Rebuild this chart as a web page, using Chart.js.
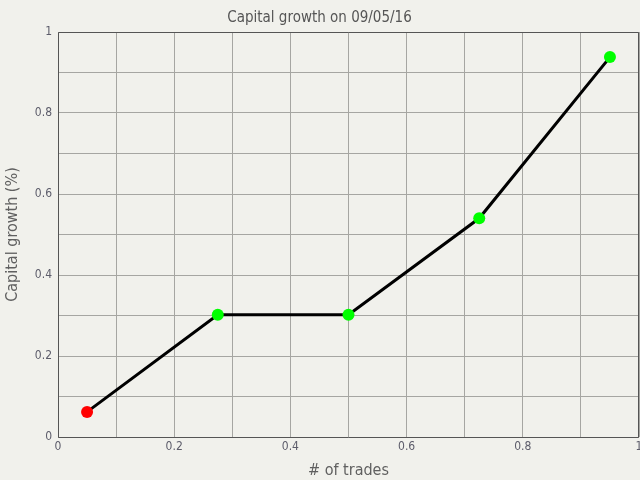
<!DOCTYPE html>
<html>
<head>
<meta charset="utf-8">
<script src="https://cdn.jsdelivr.net/npm/chart.js@4/dist/chart.umd.min.js"></script>
<style>
html,body{margin:0;padding:0;background:#f1f1ec;}
#wrap{width:640px;height:480px;}
</style>
</head>
<body>
<div id="wrap"><canvas id="c" width="640" height="480"></canvas></div>
<script>
const titleText = "Capital growth on 09/05/16";
const xTitle = "# of trades";
const yTitle = "Capital growth (%)";
const xValues = [0.05, 0.275, 0.5, 0.725, 0.95];
const yValues = [0.062, 0.302, 0.302, 0.54, 0.938];
const pointColors = ["#ff0000", "#00ff00", "#00ff00", "#00ff00", "#00ff00"];
const tickLabels = [0, 0.2, 0.4, 0.6, 0.8, 1];

const FONT = "'DejaVu Sans Condensed', 'DejaVu Sans', sans-serif";
const borderPlugin = {
  id: 'borderBox',
  beforeDatasetsDraw(chart) {
    const a = chart.chartArea, ctx = chart.ctx;
    ctx.save();
    ctx.strokeStyle = '#555555';
    ctx.lineWidth = 1;
    ctx.beginPath();
    ctx.moveTo(a.left + 0.5, a.bottom + 0.5);
    ctx.lineTo(a.left + 0.5, a.top + 0.5);
    ctx.lineTo(a.right - 0.5, a.top + 0.5);
    ctx.lineTo(a.right - 0.5, a.bottom + 0.5);
    ctx.lineTo(a.left + 0.5, a.bottom + 0.5);
    ctx.stroke();
    ctx.restore();
  }
};
const bg = {
  id: 'bg',
  beforeDraw(chart) {
    const ctx = chart.ctx;
    ctx.save();
    ctx.fillStyle = '#f1f1ec';
    ctx.fillRect(0, 0, chart.width, chart.height);
    ctx.restore();
  }
};

const fmt = v => {
  const r = Math.round(v * 10) / 10;
  const ok = tickLabels.some(t => Math.abs(t - r) < 1e-9);
  return ok ? String(r) : '';
};

new Chart(document.getElementById('c'), {
  type: 'scatter',
  data: {
    datasets: [{
      data: xValues.map((x, i) => ({x: x, y: yValues[i]})),
      showLine: true,
      borderColor: '#000000',
      borderWidth: 3,
      pointRadius: 6,
      pointHoverRadius: 6,
      pointBorderWidth: 0,
      pointBackgroundColor: pointColors,
      pointBorderColor: pointColors
    }]
  },
  options: {
    responsive: false,
    animation: false,
    devicePixelRatio: 1,
    layout: {autoPadding: false, padding: {left: 0, right: 1, top: 0, bottom: 0}},
    plugins: {
      legend: {display: false},
      tooltip: {enabled: false},
      title: {
        display: true,
        text: titleText,
        color: '#555555',
        font: {family: FONT, size: 15, weight: 'normal'},
        padding: {top: 9, bottom: 5}
      }
    },
    scales: {
      x: {
        type: 'linear',
        min: 0, max: 1,
        grid: {color: '#a6a6a2', drawTicks: false, lineWidth: 1},
        border: {display: false},
        ticks: {
          stepSize: 0.1, autoSkip: false, maxRotation: 0,
          callback: fmt, color: '#5c5c6a', padding: 3,
          font: {family: FONT, size: 12}
        },
        title: {display: true, text: xTitle, color: '#606060',
          font: {family: FONT, size: 16}, padding: {top: 8, bottom: 0}},
        afterFit(s) { s.height = 43; s.paddingLeft = 0; s.paddingRight = 0; }
      },
      y: {
        type: 'linear',
        min: 0, max: 1,
        grid: {color: '#a6a6a2', drawTicks: false, lineWidth: 1},
        border: {display: false},
        ticks: {
          stepSize: 0.1, autoSkip: false,
          callback: fmt, color: '#5c5c6a', padding: 6,
          font: {family: FONT, size: 12}
        },
        title: {display: true, text: yTitle, color: '#606060',
          font: {family: FONT, size: 16}, padding: {top: 3, bottom: 4}},
        afterFit(s) { s.width = 58; s.paddingTop = 0; s.paddingBottom = 0; }
      }
    }
  },
  plugins: [bg, borderPlugin]
});
</script>
</body>
</html>
